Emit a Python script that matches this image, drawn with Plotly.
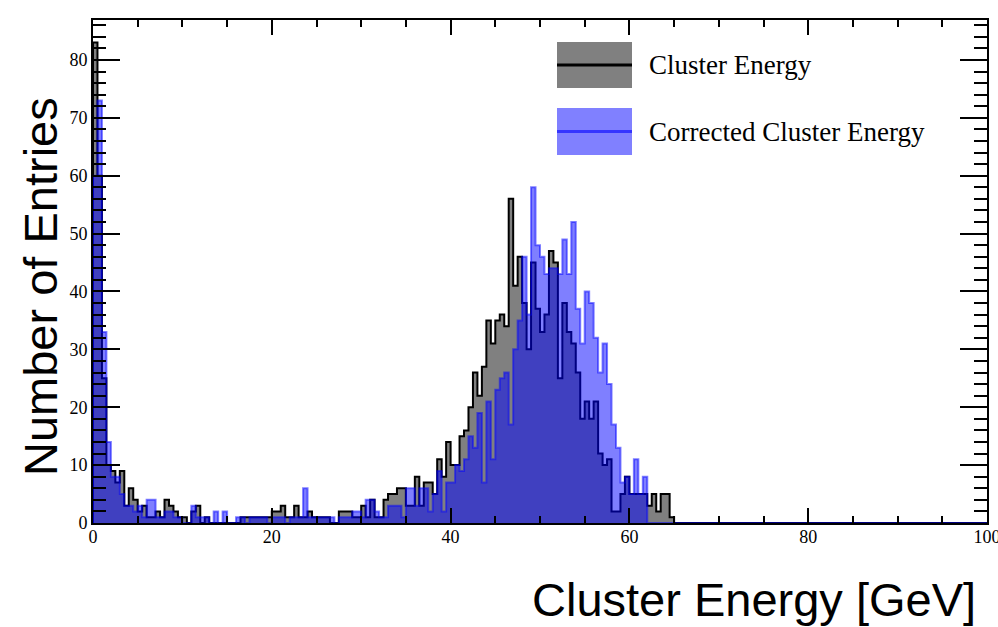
import numpy as np
import plotly.graph_objects as go

# ---------------- data (bin contents, 0.5 GeV bins from 0 to 100 GeV) ----------------
BIN_WIDTH = 0.5
N_BINS = 200

# Cluster Energy (black outline, grey fill) - bins 0..129, remaining bins are empty
cluster_energy = [
    83, 60, 25, 10, 9, 7, 9, 3, 6, 4,
    2, 3, 1, 1, 2, 1, 4, 3, 2, 1,
    1, 0, 2, 3, 0, 1, 0, 0, 0, 0,
    0, 0, 0, 1, 1, 1, 1, 1, 1, 1,
    2, 2, 3, 1, 1, 3, 1, 1, 2, 1,
    1, 1, 1, 0, 0, 2, 2, 2, 1, 1,
    3, 1, 4, 1, 1, 4, 5, 5, 6, 6,
    3, 3, 8, 3, 7, 7, 5, 11, 8, 14,
    10, 10, 15, 16, 20, 26, 22, 27, 35, 31,
    35, 36, 34, 56, 41, 46, 38, 30, 45, 37,
    33, 36, 47, 45, 25, 38, 33, 31, 26, 18,
    21, 18, 21, 12, 10, 11, 2, 2, 5, 8,
    5, 5, 5, 5, 3, 5, 2, 5, 5, 1,
]

# Corrected Cluster Energy (blue, semi-transparent) - bins 0..129
corrected_energy = [
    60, 73, 33, 14, 8, 8, 5, 3, 3, 2,
    3, 1, 4, 4, 1, 1, 2, 2, 1, 1,
    0, 0, 3, 1, 1, 1, 0, 2, 0, 2,
    0, 0, 1, 1, 0, 1, 1, 1, 1, 0,
    1, 1, 1, 0, 1, 1, 1, 6, 1, 1,
    1, 1, 1, 1, 0, 1, 1, 1, 2, 2,
    1, 4, 4, 2, 1, 1, 3, 3, 3, 1,
    6, 6, 3, 6, 6, 2, 5, 9, 2, 7,
    7, 10, 9, 11, 15, 13, 19, 7, 21, 11,
    23, 25, 26, 17, 30, 35, 46, 36, 58, 48,
    46, 43, 44, 44, 43, 49, 43, 52, 37, 31,
    40, 38, 32, 26, 31, 24, 17, 13, 7, 8,
    5, 11, 5, 8, 0, 0, 0, 0, 0, 0,
]

# bins above 65 GeV are empty in both histograms
cluster_energy = cluster_energy + [0] * (N_BINS - len(cluster_energy))
corrected_energy = corrected_energy + [0] * (N_BINS - len(corrected_energy))

x_ticks = [0, 20, 40, 60, 80, 100]
y_ticks = [0, 10, 20, 30, 40, 50, 60, 70, 80]

legend_labels = ["Cluster Energy", "Corrected Cluster Energy"]
x_title = "Cluster Energy [GeV]"
y_title = "Number of Entries"

# ---------------- helpers ----------------
edges = np.arange(N_BINS + 1) * BIN_WIDTH


def step_xy(values):
    xs = [edges[0]] + list(edges[:-1]) + [edges[-1]]
    ys = [0] + list(values) + [values[-1]]
    return xs, ys


GREY = "#808080"
BLUE_A = "rgba(0,0,255,0.5)"

fig = go.Figure()

xs, ys = step_xy(cluster_energy)
fig.add_trace(go.Scatter(
    x=xs, y=ys, mode="lines", line=dict(color="black", width=2, shape="hv"),
    fill="tozeroy", fillcolor=GREY, name=legend_labels[0], showlegend=False,
))

xs, ys = step_xy(corrected_energy)
fig.add_trace(go.Scatter(
    x=xs, y=ys, mode="lines", line=dict(color=BLUE_A, width=2, shape="hv"),
    fill="tozeroy", fillcolor=BLUE_A, name=legend_labels[1], showlegend=False,
))

# ---------------- layout ----------------
W, H = 998, 627
L, R, T, B = 93, 11, 20, 104
pw, ph = W - L - R, H - T - B


def px_to_paper(px, py):
    return (px - L) / pw, (H - B - py) / ph


tickfont = dict(family="Liberation Serif, Times New Roman, serif", size=18, color="black")

fig.update_layout(
    width=W, height=H,
    margin=dict(l=L, r=R, t=T, b=B, pad=0, autoexpand=False),
    paper_bgcolor="white", plot_bgcolor="white",
    showlegend=False,
    xaxis=dict(
        range=[0, 100], tickvals=x_ticks, ticktext=[str(v) for v in x_ticks],
        showgrid=False, zeroline=False, automargin=False,
        showline=True, linecolor="black", linewidth=2, mirror="ticks",
        ticks="inside", ticklen=15, tickwidth=2, tickcolor="black",
        minor=dict(dtick=5, tick0=0, ticks="inside", ticklen=7, tickwidth=2,
                   tickcolor="black", showgrid=False),
        tickfont=tickfont, ticklabeloverflow="allow", ticklabelstandoff=-4,
    ),
    yaxis=dict(
        range=[0, 86.9], tickvals=y_ticks, ticktext=[str(v) for v in y_ticks],
        showgrid=False, zeroline=False, automargin=False,
        showline=True, linecolor="black", linewidth=2, mirror="ticks",
        ticks="inside", ticklen=27, tickwidth=2, tickcolor="black",
        minor=dict(dtick=2, tick0=0, ticks="inside", ticklen=13, tickwidth=2,
                   tickcolor="black", showgrid=False),
        tickfont=tickfont, ticklabeloverflow="allow",
    ),
)

# axis titles
ax, ay = px_to_paper(978, 599)
fig.add_annotation(
    x=ax, y=ay, xref="paper", yref="paper", text=x_title, showarrow=False,
    xanchor="right", yanchor="middle",
    font=dict(family="Liberation Sans, Arial, sans-serif", size=47, color="black"),
)
ax, ay = px_to_paper(40, 287)
fig.add_annotation(
    x=ax, y=ay, xref="paper", yref="paper", text=y_title, showarrow=False,
    xanchor="center", yanchor="middle", textangle=-90,
    font=dict(family="Liberation Sans, Arial, sans-serif", size=47, color="black"),
)

# legend (drawn as boxes + text, ROOT style, no border)
legend_rows = [
    dict(fill=GREY, line="black", y0=42, y1=88),
    dict(fill="#8080ff", line="rgba(40,40,255,0.85)", y0=108, y1=155),
]
for row, label in zip(legend_rows, legend_labels):
    x0, y0 = px_to_paper(557, row["y1"])
    x1, y1 = px_to_paper(632, row["y0"])
    fig.add_shape(type="rect", xref="paper", yref="paper", x0=x0, x1=x1, y0=y0, y1=y1,
                  fillcolor=row["fill"], line=dict(width=0), layer="above")
    ym = (y0 + y1) / 2
    fig.add_shape(type="line", xref="paper", yref="paper", x0=x0, x1=x1, y0=ym, y1=ym,
                  line=dict(color=row["line"], width=3), layer="above")
    tx, _ = px_to_paper(647, 0)
    fig.add_annotation(
        x=tx, y=ym, xref="paper", yref="paper", text=label, showarrow=False,
        xanchor="left", yanchor="middle",
        font=dict(family="Liberation Serif, Times New Roman, serif", size=27, color="black"),
    )

fig.write_html("out.html")
